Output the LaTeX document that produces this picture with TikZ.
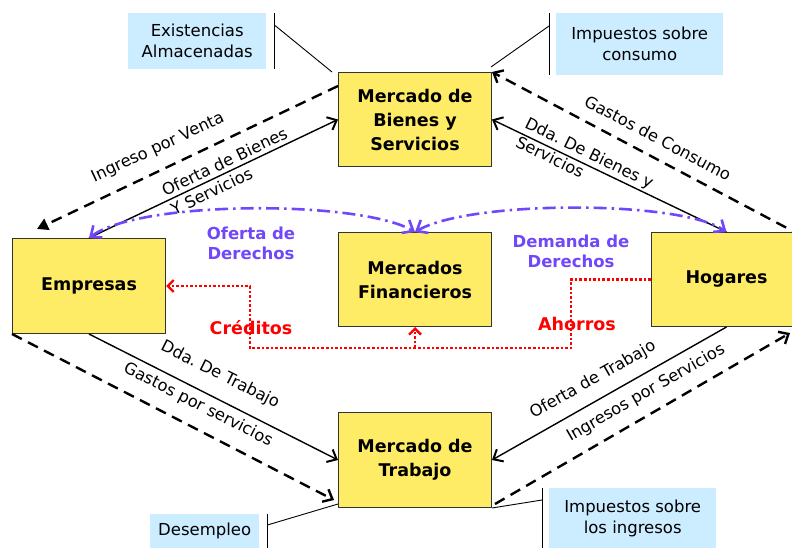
\documentclass[tikz,border=0pt]{standalone}
\usepackage{fontspec}
\setmainfont{DejaVu Sans}
\usetikzlibrary{arrows.meta,calc}
\definecolor{boxyellow}{RGB}{255,236,102}
\definecolor{boxblue}{RGB}{204,236,255}
\definecolor{purp}{RGB}{112,72,250}
\definecolor{redline}{RGB}{255,0,0}
\frenchspacing
\begin{document}
\begin{tikzpicture}[x=1pt,y=-1pt,
  mkt/.style={draw=black!80,line width=1pt,fill=boxyellow,minimum width=153pt,minimum height=94pt,anchor=north west,align=center,font=\fontsize{17.5}{24}\selectfont\bfseries,inner sep=2pt},
  note/.style={fill=boxblue,anchor=north west,align=center,font=\fontsize{16.5}{21}\selectfont,inner sep=0pt},
  lbl/.style={font=\fontsize{16.3}{21}\selectfont,inner sep=0pt},
  plbl/.style={font=\fontsize{16.5}{20}\selectfont\bfseries,text=purp,align=center,inner sep=0pt},
  rlbl/.style={font=\fontsize{17.5}{20}\selectfont\bfseries,text=redline,inner sep=0pt},
  flow/.style={line width=1.4pt,-{Straight Barb[length=8pt,width=14pt,line width=2pt]}},
  money/.style={line width=2.4pt,dash pattern=on 11pt off 7pt,-{Straight Barb[length=8pt,width=14pt,line width=2.4pt]}},
  tie/.style={line width=0.9pt},
  rights/.style={purp,line width=2.6pt,dash pattern=on 13pt off 5pt on 2.5pt off 5pt,
    {Straight Barb[length=9pt,width=15pt,line width=2.6pt]}-{Straight Barb[length=9pt,width=15pt,line width=2.6pt]}},
  loan/.style={redline,line width=2.6pt,dash pattern=on 2.6pt off 2pt,-{Straight Barb[length=6pt,width=12pt,line width=2.4pt]}}
]
\useasboundingbox (0,0) rectangle (792,548);

% market boxes
\node[mkt] (mbs) at (338,72) {Mercado de\\Bienes y\\Servicios};
\node[mkt,minimum height=95pt] (emp) at (12,238) {Empresas};
\node[mkt] (mf) at (338,232) {Mercados\\Financieros};
\node[mkt,minimum width=150pt] (hog) at (651,232) {Hogares};
\node[mkt,minimum height=95pt] (mt) at (338,412) {Mercado de\\Trabajo};

% notes
\node[note,minimum width=138pt,minimum height=56pt] (ex) at (128,13) {Existencias\\Almacenadas};
\node[note,minimum width=167pt,minimum height=62pt] (ic) at (556,13) {Impuestos sobre\\consumo};
\node[note,minimum width=109pt,minimum height=34pt] (des) at (150,514) {Desempleo};
\node[note,minimum width=167pt,minimum height=60pt] (ii) at (549,488) {Impuestos sobre\\los ingresos};

\draw[tie] ($(ex.north east)+(8,0)$) -- ($(ex.south east)+(8,0)$);
\draw[tie] ($(ex.north east)+(8,12)$) -- ($(mbs.north west)+(-6,0)$);
\draw[tie] ($(ic.north west)+(-7,0)$) -- ($(ic.south west)+(-7,0)$);
\draw[tie] ($(ic.north west)+(-7,13)$) -- ($(mbs.north east)+(-1,-5)$);
\draw[tie] ($(des.north east)+(8,0)$) -- ($(des.south east)+(8,0)$);
\draw[tie] ($(des.north east)+(8,11)$) -- ($(mt.south west)+(0,-4)$);
\draw[tie] ($(ii.north west)+(-7,0)$) -- ($(ii.south west)+(-7,0)$);
\draw[tie] ($(ii.north west)+(-7,12)$) -- (mt.south east);

% free ends
\coordinate (ivend) at (37,229);
\coordinate (gcstart) at (802,236);
\coordinate (gpsend) at ($(mt.south west)+(-4,-8)$);
\coordinate (ipsend) at (790,333);

% goods market flows
\draw[money,-{Triangle[length=11pt,width=12pt]}] ($(mbs.north west)+(0,14)$) -- (ivend);
\draw[flow] (emp.north) -- (mbs.west);
\draw[money] (gcstart) -- (mbs.north east);
\draw[flow] (hog.north) -- (mbs.east);

% labour market flows
\draw[money] (emp.south west) -- (gpsend);
\draw[flow] (emp.south) -- (mt.west);
\draw[flow] (hog.south) -- (mt.east);
\draw[money] ($(mt.south east)+(3,-4)$) -- (ipsend);

% rights
\draw[rights] (emp.north) .. controls (140,200) and (360,200) .. (mf.north);
\draw[rights] (mf.north) .. controls (470,200) and (680,200) .. (hog.north);

% credits / savings
\coordinate (r1) at (571,348);
\coordinate (r2) at (250,348);
\draw[loan] (hog.west) -| (r1) -- (r2) |- (emp.east);
\draw[loan] (mf.south |- r1) -- (mf.south);

% labels
\node[lbl,rotate=25] (l1) at (158,148) {Ingreso por Venta};
\node[lbl,rotate=25.6,align=left] (l2) at (229,171) {Oferta de Bienes\\Y Servicios};
\node[lbl,rotate=-28] (l3) at (658,138) {Gastos de Consumo};
\node[lbl,rotate=-26,align=left] (l4) at (585,162) {Dda. De Bienes y\\Servicios};
\node[lbl,rotate=-27] (l5) at (198,405) {Gastos por servicios};
\node[lbl,rotate=-26.6] (l6) at (220,375) {Dda. De Trabajo};
\node[lbl,rotate=29.6] (l7) at (593,380) {Oferta de Trabajo};
\node[lbl,rotate=30] (l8) at (646,393) {Ingresos por Servicios};
\node[plbl] (l9) at (251,243) {Oferta de\\Derechos};
\node[plbl] (l10) at (571,251) {Demanda de\\Derechos};
\node[rlbl] (l11) at (251,328) {Créditos};
\node[rlbl] (l12) at (577,324) {Ahorros};
\end{tikzpicture}
\end{document}
